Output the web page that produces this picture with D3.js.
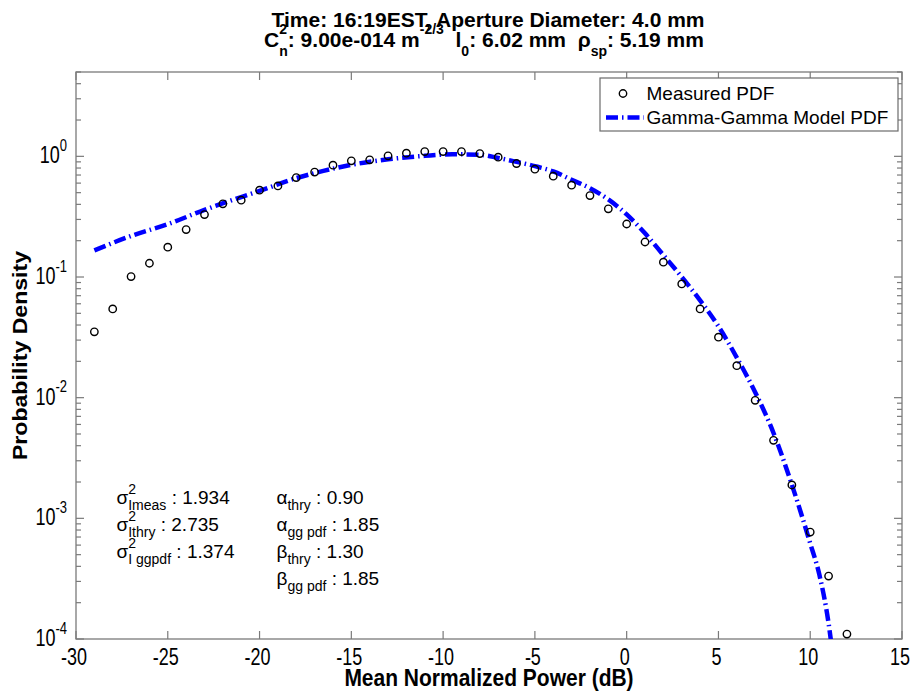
<!DOCTYPE html>
<html>
<head>
<meta charset="utf-8">
<script src="https://cdn.jsdelivr.net/npm/d3@7"></script>
<style>
  html, body { margin: 0; padding: 0; background: #fff; }
  svg { display: block; }
  text { font-family: "Liberation Sans", Arial, Helvetica, sans-serif; fill: #000; }
</style>
</head>
<body>
<svg id="chart" width="917" height="692"></svg>
<script>
// Measured PDF: mean normalized power (dB) and probability density
const measuredX = [-29, -28, -27, -26, -25, -24, -23, -22, -21, -20, -19, -18, -17, -16, -15,
  -14, -13, -12, -11, -10, -9, -8, -7, -6, -5, -4, -3, -2, -1, 0, 1, 2, 3, 4, 5, 6, 7, 8, 9, 10, 11, 12];
const measuredPDF = [0.0351, 0.0544, 0.1008, 0.130, 0.1767, 0.247, 0.329, 0.404, 0.433, 0.524,
  0.569, 0.667, 0.740, 0.845, 0.918, 0.935, 1.01, 1.063, 1.096, 1.096, 1.096, 1.055, 0.985, 0.872,
  0.783, 0.685, 0.577, 0.473, 0.367, 0.275, 0.195, 0.1327, 0.0877, 0.0544, 0.0317, 0.0184,
  0.00951, 0.00443, 0.00189, 0.00077, 0.000332, 0.0001098];

// Gamma-Gamma model PDF
const modelX = [-29, -27, -25, -23, -21, -20, -18, -17, -15, -13, -11, -9.5, -8, -7, -6, -5, -4,
  -3, -2, -1, 0, 1, 2, 3, 4, 5, 6, 7, 8, 9, 10, 10.5, 11, 11.2];
const modelPDF = [0.166, 0.219, 0.274, 0.36, 0.46, 0.517, 0.66, 0.726, 0.85, 0.945, 1.01, 1.04,
  1.03, 0.97, 0.9, 0.83, 0.75, 0.64, 0.545, 0.44, 0.33, 0.23, 0.152, 0.1, 0.064, 0.039, 0.0215,
  0.0111, 0.0051, 0.0019, 0.00062, 0.00034, 0.000135, 0.00008];

// Axis ticks
const xTickValues = [-30, -25, -20, -15, -10, -5, 0, 5, 10, 15];
const yTickExponents = [-4, -3, -2, -1, 0];

// Legend entries
const legendLabels = ["Measured PDF", "Gamma-Gamma Model PDF"];

// Statistics annotations
const sigmaSubs = ["Imeas", "Ithry", "I ggpdf"];
const sigmaVals = ["1.934", "2.735", "1.374"];
const shapeSymbols = ["α", "α", "β", "β"];
const shapeSubs = ["thry", "gg pdf", "thry", "gg pdf"];
const shapeVals = ["0.90", "1.85", "1.30", "1.85"];

const FONT = 19;
const TICK_FONT = 18;
const TICK_STRETCH = 1.3;   // tick labels use a tall, narrow face
const svg = d3.select("#chart");
const plot = { left: 76, right: 902, top: 72, bottom: 639 };

const x = d3.scaleLinear().domain([-30, 15]).range([plot.left, plot.right]);
const y = d3.scaleLog().domain([1e-4, 5]).range([plot.bottom, plot.top]);

// One text element built from tspans, with sub/superscripts (stack = same x as previous run)
function richText(parent, runs, opts) {
  const t = parent.append("text")
    .attr("font-size", opts.size)
    .attr("font-weight", opts.weight || "normal")
    .attr("xml:space", "preserve")
    .style("white-space", "pre");
  let cx = 0, lastStart = 0, curDy = 0;
  runs.forEach(r => {
    const startX = r.stack ? lastStart : cx;
    const target = r.dy || 0;
    const ts = t.append("tspan")
      .attr("x", startX)
      .attr("dy", target - curDy)
      .attr("font-size", r.size || opts.size)
      .text(r.t);
    curDy = target;
    const w = ts.node().getComputedTextLength();
    if (r.stack) {
      cx = Math.max(cx, startX + w);
    } else {
      lastStart = startX;
      cx = startX + w;
    }
  });
  let shift = 0;
  if (opts.anchor === "middle") shift = -cx / 2;
  if (opts.anchor === "end") shift = -cx;
  const sy = opts.stretch || 1;
  t.attr("transform", `translate(${opts.x + shift},${opts.y}) scale(1,${sy})`);
  return t;
}

// Title
richText(svg, [{ t: "Time: 16:19EST, Aperture Diameter: 4.0 mm" }],
  { x: 488, y: 26.5, size: 21, weight: "bold", anchor: "middle" });
richText(svg, [
  { t: "C" },
  { t: "n", size: 14, dy: 9 },
  { t: "2", size: 14, dy: -13, stack: true },
  { t: ": 9.00e-014 m" },
  { t: "-2/3", size: 14, dy: -13 },
  { t: "  l" },
  { t: "0", size: 14, dy: 9 },
  { t: ": 6.02 mm  ρ" },
  { t: "sp", size: 14, dy: 9 },
  { t: ": 5.19 mm" }
], { x: 484, y: 46.5, size: 21, weight: "bold", anchor: "middle" });

// Plot frame
const axisColor = "#7a7a7a";
svg.append("rect")
  .attr("x", plot.left).attr("y", plot.top)
  .attr("width", plot.right - plot.left).attr("height", plot.bottom - plot.top)
  .attr("fill", "none").attr("stroke", axisColor).attr("stroke-width", 1.3);

// X ticks (bottom and top, pointing inward)
const majorLen = 8, minorLen = 5;
xTickValues.forEach(v => {
  const px = x(v);
  svg.append("line").attr("x1", px).attr("x2", px)
    .attr("y1", plot.bottom).attr("y2", plot.bottom - majorLen)
    .attr("stroke", axisColor).attr("stroke-width", 1.2);
  svg.append("line").attr("x1", px).attr("x2", px)
    .attr("y1", plot.top).attr("y2", plot.top + majorLen)
    .attr("stroke", axisColor).attr("stroke-width", 1.2);
  richText(svg, [{ t: String(v) }],
    { x: px - 2, y: 665, size: TICK_FONT, anchor: "middle", stretch: TICK_STRETCH });
});

// Y ticks: decades with minor ticks, left and right, pointing inward
const yMax = y.domain()[1];
yTickExponents.forEach(e => {
  const base = Math.pow(10, e);
  const py = y(base);
  [[plot.left, 1], [plot.right, -1]].forEach(([ax, dir]) => {
    svg.append("line").attr("x1", ax).attr("x2", ax + dir * majorLen)
      .attr("y1", py).attr("y2", py)
      .attr("stroke", axisColor).attr("stroke-width", 1.2);
    for (let m = 2; m <= 9; m++) {
      const v = m * base;
      if (v > yMax) break;
      const pm = y(v);
      svg.append("line").attr("x1", ax).attr("x2", ax + dir * minorLen)
        .attr("y1", pm).attr("y2", pm)
        .attr("stroke", axisColor).attr("stroke-width", 1.2);
    }
  });
  richText(svg, [{ t: "10" }, { t: String(e), size: 13, dy: -9.5 }],
    { x: 67, y: py + 7, size: TICK_FONT, anchor: "end", stretch: TICK_STRETCH });
});

// Axis labels
svg.append("text")
  .attr("transform", `translate(${(plot.left + plot.right) / 2},686) scale(1,1.1)`)
  .attr("text-anchor", "middle").attr("font-size", 21).attr("font-weight", "bold")
  .text("Mean Normalized Power (dB)");
svg.append("text")
  .attr("transform", `translate(27,${(plot.top + plot.bottom) / 2}) rotate(-90) scale(1.1,1)`)
  .attr("text-anchor", "middle").attr("font-size", 21).attr("font-weight", "bold")
  .text("Probability Density");

// Clip region for the model curve
svg.append("clipPath").attr("id", "plot-clip")
  .append("rect")
  .attr("x", plot.left).attr("y", plot.top)
  .attr("width", plot.right - plot.left).attr("height", plot.bottom - plot.top);

const modelData = modelX.map((v, i) => [v, modelPDF[i]]);
const line = d3.line()
  .x(d => x(d[0]))
  .y(d => y(d[1]))
  .curve(d3.curveMonotoneX);

const dashPattern = "12,4,1.5,4";
svg.append("path")
  .datum(modelData)
  .attr("clip-path", "url(#plot-clip)")
  .attr("d", line)
  .attr("fill", "none")
  .attr("stroke", "#0000ff")
  .attr("stroke-width", 4.5)
  .attr("stroke-dasharray", dashPattern);

// Measured points
const measuredData = measuredX.map((v, i) => [v, measuredPDF[i]]);
svg.append("g").selectAll("circle")
  .data(measuredData)
  .join("circle")
  .attr("cx", d => x(d[0]))
  .attr("cy", d => y(d[1]))
  .attr("r", 3.7)
  .attr("fill", "none")
  .attr("stroke", "#000")
  .attr("stroke-width", 1.4);

// Legend
const legend = svg.append("g");
legend.append("rect")
  .attr("x", 600).attr("y", 78).attr("width", 298).attr("height", 53)
  .attr("fill", "#fff").attr("stroke", "#6b6b6b").attr("stroke-width", 1.2);
legend.append("circle")
  .attr("cx", 623).attr("cy", 93.5).attr("r", 3.7)
  .attr("fill", "none").attr("stroke", "#000").attr("stroke-width", 1.4);
legend.append("text").attr("x", 646.5).attr("y", 100).attr("font-size", FONT).text(legendLabels[0]);
legend.append("line")
  .attr("x1", 606).attr("x2", 644).attr("y1", 117.5).attr("y2", 117.5)
  .attr("stroke", "#0000ff").attr("stroke-width", 4.5)
  .attr("stroke-dasharray", dashPattern);
legend.append("text").attr("x", 646.5).attr("y", 123.5).attr("font-size", FONT).text(legendLabels[1]);

// Statistics annotations
const rowBase = [504, 531, 558, 585];
sigmaSubs.forEach((s, i) => {
  richText(svg, [
    { t: "σ" },
    { t: "2", size: 14, dy: -10 },
    { t: s, size: 14, dy: 6, stack: true },
    { t: " : " + sigmaVals[i] }
  ], { x: 116.5, y: rowBase[i], size: FONT });
});
shapeSymbols.forEach((sym, i) => {
  richText(svg, [
    { t: sym },
    { t: shapeSubs[i], size: 14, dy: 6 },
    { t: " : " + shapeVals[i] }
  ], { x: 276.5, y: rowBase[i], size: FONT });
});
</script>
</body>
</html>
